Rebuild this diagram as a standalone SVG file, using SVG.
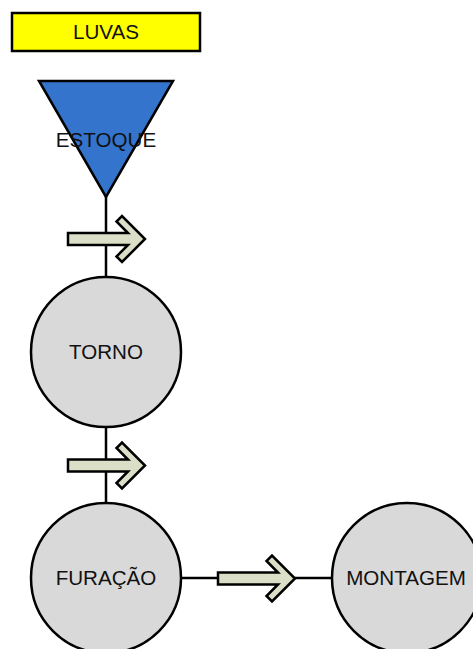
<svg xmlns="http://www.w3.org/2000/svg" width="473" height="649" viewBox="0 0 473 649">
<defs>
<style>
.node{stroke:#000;stroke-width:2.5}
.proc{fill:#d9d9d9}
.lbl{font-family:"Liberation Sans",Arial,sans-serif;font-size:20.6px;fill:#111;text-anchor:middle}
.conn{stroke:#000;stroke-width:2.5;fill:none}
.push{fill:#dcdfc8;stroke:#000;stroke-width:2.5;stroke-linejoin:miter}
</style>
<polygon id="pusharrow" points="0,-6 60,-6 48.5,-17.5 54,-23 77,0 54,23 48.5,17.5 60,6 0,6"/>
</defs>
<g id="connectors">
<line class="conn" x1="106" y1="195" x2="106" y2="277"/>
<line class="conn" x1="106" y1="427" x2="106" y2="503"/>
<line class="conn" x1="181" y1="578" x2="332" y2="578"/>
<use href="#pusharrow" class="push" x="68" y="239"/>
<use href="#pusharrow" class="push" x="68" y="465.5"/>
<use href="#pusharrow" class="push" x="218" y="578.5"/>
</g>
<g id="luvas">
<rect class="node" x="12" y="13" width="188" height="38" fill="#ffff00"/>
<text class="lbl" x="106" y="39">LUVAS</text>
</g>
<g id="estoque">
<polygon class="node" points="39,81 173,81 106,197" fill="#3474cc"/>
<text class="lbl" x="106" y="147">ESTOQUE</text>
</g>
<g id="torno">
<circle class="node proc" cx="106" cy="352" r="75"/>
<text class="lbl" x="106" y="359">TORNO</text>
</g>
<g id="furacao">
<circle class="node proc" cx="106" cy="578" r="75"/>
<text class="lbl" x="106" y="585">FURAÇÃO</text>
</g>
<g id="montagem">
<circle class="node proc" cx="407" cy="578" r="75"/>
<text class="lbl" x="406" y="585">MONTAGEM</text>
</g>
</svg>
